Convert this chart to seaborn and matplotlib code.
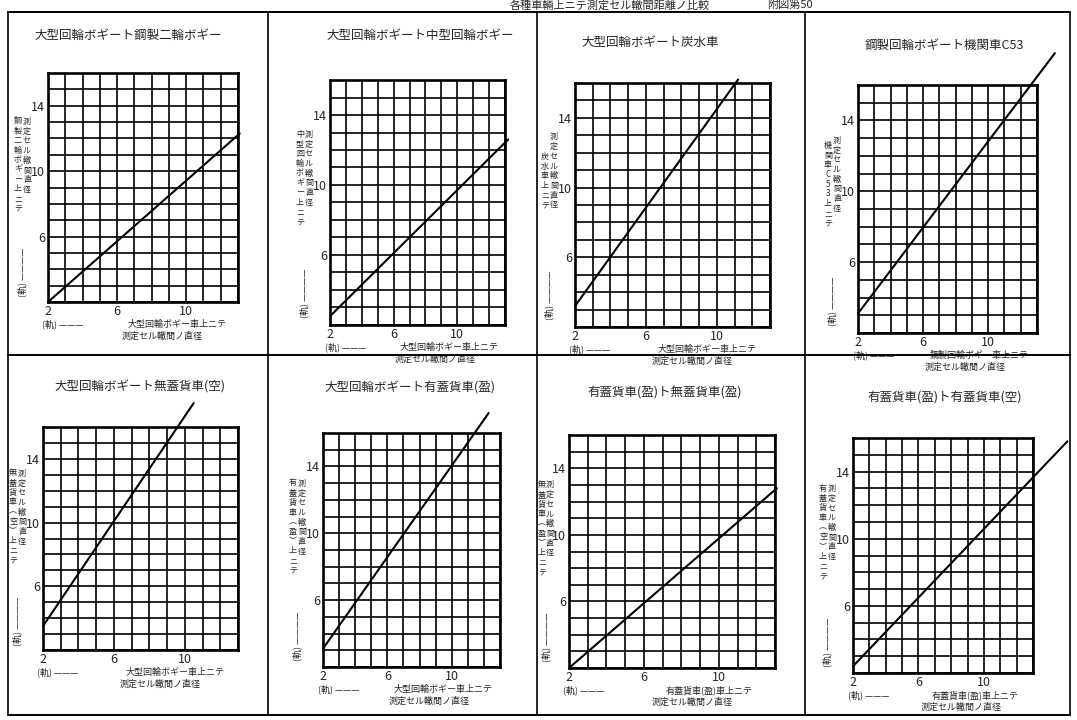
import numpy as np
import pandas as pd
import matplotlib
matplotlib.use("Agg")
import matplotlib.pyplot as plt
from matplotlib.lines import Line2D
import seaborn as sns

sns.set_style("white")
plt.rcParams["font.family"] = ["Noto Sans CJK JP", "DejaVu Sans"]

# panel titles
titles = [
    "大型回輪ボギート鋼製二輪ボギー",
    "大型回輪ボギート中型回輪ボギー",
    "大型回輪ボギート炭水車",
    "鋼製回輪ボギート機関車C53",
    "大型回輪ボギート無蓋貨車(空)",
    "大型回輪ボギート有蓋貨車(盈)",
    "有蓋貨車(盈)ト無蓋貨車(盈)",
    "有蓋貨車(盈)ト有蓋貨車(空)",
]
x_vehicle = ["大型回輪ボギー", "大型回輪ボギー", "大型回輪ボギー", "鋼製回輪ボギー",
             "大型回輪ボギー", "大型回輪ボギー", "有蓋貨車(盈)", "有蓋貨車(盈)"]
y_vehicle = ["鋼製二輪ボギー", "中型回輪ボギー", "炭水車", "機関車C53",
             "無蓋貨車(空)", "有蓋貨車(盈)", "無蓋貨車(盈)", "有蓋貨車(空)"]

# line end points (x, y) per panel
line_x = [[2, 13.1], [2, 13.2], [2, 11.2], [2, 14.1],
          [2, 10.5], [2, 12.3], [2, 13.1], [2, 15.1]]
line_y = [[2.0, 12.3], [2.5, 12.6], [3.2, 16.2], [3.1, 17.8],
          [3.5, 17.5], [3.1, 17.2], [2.0, 12.8], [2.4, 15.8]]

x_ticks = [2, 6, 10]
y_ticks = [6, 10, 14]

W, H = 1077, 720
# axes boxes in pixels: left, top, width, height
boxes = [(48, 73, 190, 229), (330, 80, 175, 245), (575, 83, 195, 244), (858, 85, 179, 248),
         (43, 427, 195, 223), (323, 433, 177, 234), (569, 435, 206, 233), (853, 438, 180, 235)]
title_pos = [(128, 35), (420, 35), (650, 42), (945, 45),
             (140, 387), (410, 388), (665, 392), (945, 397)]
# offsets (px) of the two vertical label columns left of each axes
ylab_off = [(-30, -21)] * 6 + [(-27, -19), (-30, -21)]

fig = plt.figure(figsize=(W / 100, H / 100), dpi=100)
fig.patch.set_facecolor("white")


def vert(s):
    return "\n".join(s.replace("(", "︵").replace(")", "︶"))


for i in range(8):
    l, t, w, h = boxes[i]
    ax = fig.add_axes([l / W, 1 - (t + h) / H, w / W, h / H])
    df = pd.DataFrame({"x": line_x[i], "y": line_y[i]})
    sns.lineplot(data=df, x="x", y="y", ax=ax, color="black", lw=1.5, clip_on=False)
    ax.set_xlim(2, 13)
    ax.set_ylim(2, 16)
    ax.set_xticks(x_ticks)
    ax.set_yticks(y_ticks)
    ax.set_xticks(np.arange(2, 14), minor=True)
    ax.set_yticks(np.arange(2, 17), minor=True)
    ax.grid(which="both", color="black", lw=1.2)
    ax.tick_params(which="both", length=0, labelsize=9, pad=2)
    ax.set_xlabel("")
    ax.set_ylabel("")
    for sp in ax.spines.values():
        sp.set_linewidth(1.9)
        sp.set_color("black")

    fig.text(title_pos[i][0] / W, 1 - title_pos[i][1] / H, titles[i],
             ha="center", va="center", fontsize=9)

    # x label, two lines under the axis
    ax.text(-0.03, -22 / h, "(軌) ———", transform=ax.transAxes,
            ha="left", va="center", fontsize=6.5)
    ax.text(0.68, -22 / h, x_vehicle[i] + "車上ニテ", transform=ax.transAxes,
            ha="center", va="center", fontsize=6.5)
    ax.text(0.60, -34 / h, "測定セル轍間ノ直径", transform=ax.transAxes,
            ha="center", va="center", fontsize=6.5)

    # y label, vertical columns left of the tick labels
    o1, o2 = ylab_off[i]
    ax.text(o1 / w, 0.6, vert(y_vehicle[i] + "上ニテ"), transform=ax.transAxes,
            ha="center", va="center", fontsize=5.8, linespacing=1.1)
    ax.text(o2 / w, 0.64, vert("測定セル轍間直径"), transform=ax.transAxes,
            ha="center", va="center", fontsize=5.8, linespacing=1.1)
    ax.text((o1 + o2) / 2 / w, 0.13, "(軌) ————", transform=ax.transAxes, rotation=90,
            ha="center", va="center", fontsize=6.5)

# panel frame
for xv in [8, 268, 537, 805, 1070]:
    fig.add_artist(Line2D([xv / W, xv / W], [1 - 12 / H, 1 - 715 / H],
                          transform=fig.transFigure, color="black", lw=1.2))
for yv in [12, 355, 715]:
    fig.add_artist(Line2D([8 / W, 1070 / W], [1 - yv / H, 1 - yv / H],
                          transform=fig.transFigure, color="black", lw=1.4))

fig.text(610 / W, 1 - 5 / H, "各種車輛上ニテ測定セル轍間距離ノ比較", ha="center",
         va="center", fontsize=8)
fig.text(790 / W, 1 - 5 / H, "附図第50", ha="center", va="center", fontsize=8)

fig.savefig("out.png", dpi=100)
